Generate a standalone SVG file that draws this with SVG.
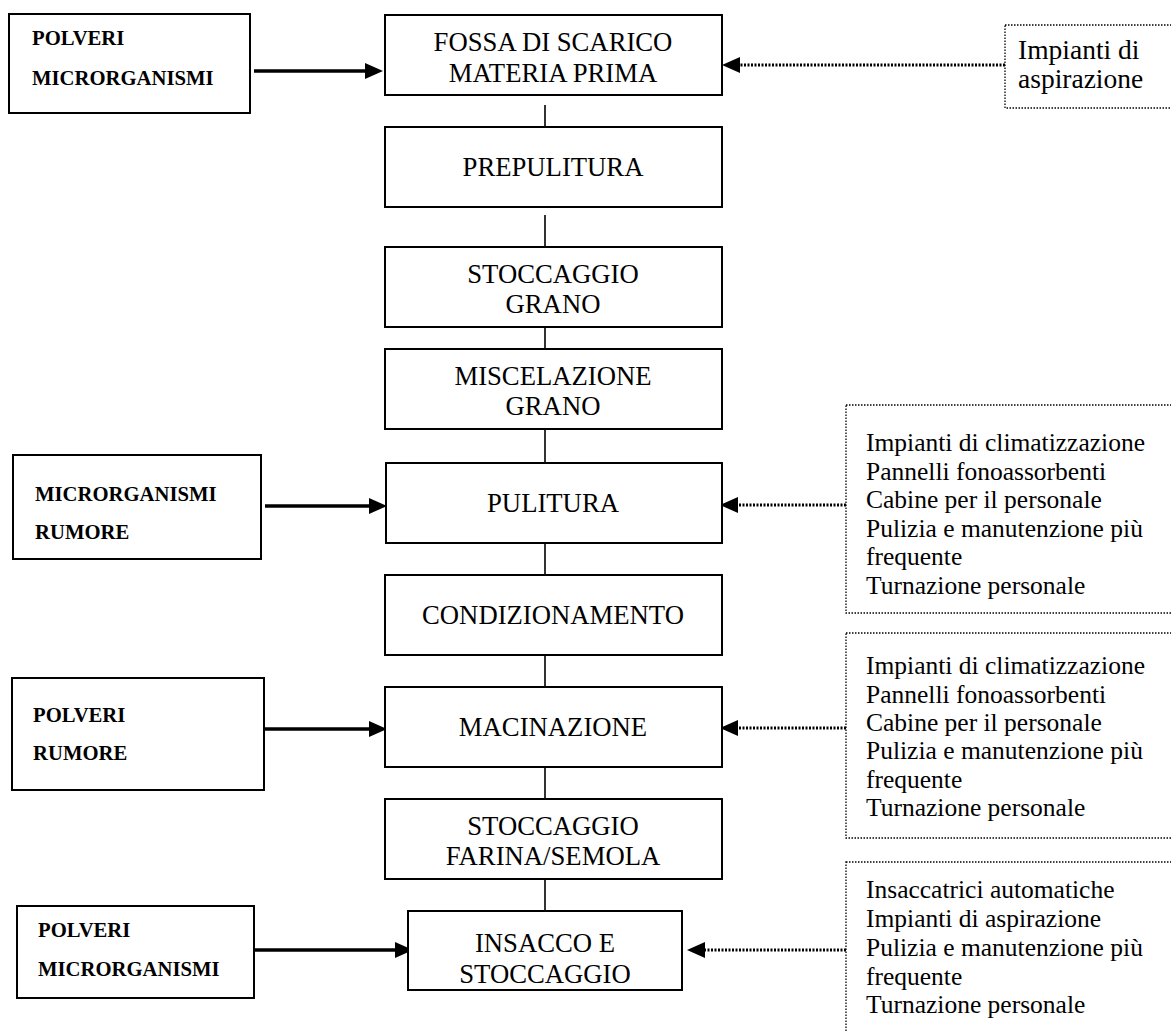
<svg xmlns="http://www.w3.org/2000/svg" width="1171" height="1032" viewBox="0 0 1171 1032">
<style>
  .box { fill: #fff; stroke: #000; stroke-width: 2; }
  .risk { fill: #fff; stroke: #000; stroke-width: 2; }
  .meas { fill: #fff; stroke: #000; stroke-width: 1.3; stroke-dasharray: 1.5 1.5; }
  .main { font-family: "Liberation Serif", "Times New Roman", serif; font-size: 26.7px; fill: #000; text-anchor: middle; }
  .bold { font-family: "Liberation Serif", "Times New Roman", serif; font-size: 20.7px; font-weight: bold; fill: #000; }
  .note { font-family: "Liberation Serif", "Times New Roman", serif; font-size: 25.5px; fill: #000; }
  .link { stroke: #000; stroke-width: 1.6; fill: none; }
  .solid { stroke: #000; stroke-width: 3.5; fill: none; marker-end: url(#head); }
  .dot { stroke: #000; stroke-width: 3; stroke-dasharray: 2 1.5; fill: none; marker-end: url(#head); }
</style>
<defs>
  <marker id="head" markerUnits="userSpaceOnUse" markerWidth="18" markerHeight="16" refX="2" refY="8" orient="auto">
    <path d="M0,0 L18,8 L0,16 z" fill="#000"/>
  </marker>
</defs>
<rect width="1171" height="1032" fill="#fff"/>

<g id="connectors">
  <line class="link" x1="545" y1="105" x2="545" y2="137"/>
  <line class="link" x1="545" y1="215" x2="545" y2="248"/>
  <line class="link" x1="545" y1="319" x2="545" y2="352"/>
  <line class="link" x1="545" y1="429" x2="545" y2="463"/>
  <line class="link" x1="545" y1="543" x2="545" y2="575"/>
  <line class="link" x1="545" y1="655" x2="545" y2="687"/>
  <line class="link" x1="545" y1="767" x2="545" y2="799"/>
  <line class="link" x1="545" y1="879" x2="545" y2="911"/>
  <line class="solid" x1="254" y1="71" x2="367" y2="71"/>
  <line class="solid" x1="265" y1="506" x2="371" y2="506"/>
  <line class="solid" x1="264" y1="729" x2="371" y2="729"/>
  <line class="solid" x1="254" y1="950" x2="397" y2="950"/>
  <line class="dot" x1="1005" y1="65" x2="738" y2="65"/>
  <line class="dot" x1="846" y1="505" x2="736" y2="505"/>
  <line class="dot" x1="846" y1="728" x2="736" y2="728"/>
  <line class="dot" x1="846" y1="950" x2="703" y2="950"/>
</g>

<g id="fossa">
  <rect class="box" x="385" y="15" width="337" height="80"/>
  <text class="main" x="553" y="51">FOSSA DI SCARICO</text>
  <text class="main" x="553" y="82">MATERIA PRIMA</text>
</g>
<g id="prepulitura">
  <rect class="box" x="385" y="127" width="337" height="80"/>
  <text class="main" x="553" y="176">PREPULITURA</text>
</g>
<g id="stoccaggio-grano">
  <rect class="box" x="385" y="247" width="337" height="80"/>
  <text class="main" x="553" y="283">STOCCAGGIO</text>
  <text class="main" x="553" y="313">GRANO</text>
</g>
<g id="miscelazione">
  <rect class="box" x="385" y="349" width="337" height="80"/>
  <text class="main" x="553" y="385">MISCELAZIONE</text>
  <text class="main" x="553" y="415">GRANO</text>
</g>
<g id="pulitura">
  <rect class="box" x="386" y="463" width="336" height="80"/>
  <text class="main" x="553" y="512">PULITURA</text>
</g>
<g id="condizionamento">
  <rect class="box" x="385" y="575" width="337" height="80"/>
  <text class="main" x="553" y="624">CONDIZIONAMENTO</text>
</g>
<g id="macinazione">
  <rect class="box" x="385" y="687" width="337" height="80"/>
  <text class="main" x="553" y="736">MACINAZIONE</text>
</g>
<g id="stoccaggio-farina">
  <rect class="box" x="385" y="799" width="337" height="80"/>
  <text class="main" x="553" y="835">STOCCAGGIO</text>
  <text class="main" x="553" y="865">FARINA/SEMOLA</text>
</g>
<g id="insacco">
  <rect class="box" x="408" y="911" width="274" height="79"/>
  <text class="main" x="545" y="952">INSACCO E</text>
  <text class="main" x="545" y="983">STOCCAGGIO</text>
</g>

<g id="rischi-1">
  <rect class="risk" x="9" y="14" width="241" height="99"/>
  <text class="bold" x="32" y="45">POLVERI</text>
  <text class="bold" x="32" y="85">MICRORGANISMI</text>
</g>
<g id="rischi-2">
  <rect class="risk" x="13" y="455" width="248" height="104"/>
  <text class="bold" x="35" y="501">MICRORGANISMI</text>
  <text class="bold" x="35" y="539">RUMORE</text>
</g>
<g id="rischi-3">
  <rect class="risk" x="12" y="678" width="252" height="112"/>
  <text class="bold" x="33" y="722">POLVERI</text>
  <text class="bold" x="33" y="760">RUMORE</text>
</g>
<g id="rischi-4">
  <rect class="risk" x="17" y="906" width="237" height="92"/>
  <text class="bold" x="38" y="937">POLVERI</text>
  <text class="bold" x="38" y="976">MICRORGANISMI</text>
</g>

<g id="misure-1">
  <rect class="meas" x="1005" y="25" width="200" height="83"/>
  <text class="note" x="1018" y="59" style="font-size:27.5px">Impianti di</text>
  <text class="note" x="1018" y="88" style="font-size:27.5px">aspirazione</text>
</g>
<g id="misure-2">
  <rect class="meas" x="846" y="405" width="360" height="208"/>
  <text class="note" x="866" y="451">Impianti di climatizzazione</text>
  <text class="note" x="866" y="480">Pannelli fonoassorbenti</text>
  <text class="note" x="866" y="508">Cabine per il personale</text>
  <text class="note" x="866" y="537">Pulizia e manutenzione più</text>
  <text class="note" x="866" y="565">frequente</text>
  <text class="note" x="866" y="594">Turnazione personale</text>
</g>
<g id="misure-3">
  <rect class="meas" x="846" y="633" width="360" height="205"/>
  <text class="note" x="866" y="674">Impianti di climatizzazione</text>
  <text class="note" x="866" y="703">Pannelli fonoassorbenti</text>
  <text class="note" x="866" y="731">Cabine per il personale</text>
  <text class="note" x="866" y="759">Pulizia e manutenzione più</text>
  <text class="note" x="866" y="788">frequente</text>
  <text class="note" x="866" y="816">Turnazione personale</text>
</g>
<g id="misure-4">
  <rect class="meas" x="846" y="862" width="360" height="200"/>
  <text class="note" x="866" y="898">Insaccatrici automatiche</text>
  <text class="note" x="866" y="927">Impianti di aspirazione</text>
  <text class="note" x="866" y="956">Pulizia e manutenzione più</text>
  <text class="note" x="866" y="985">frequente</text>
  <text class="note" x="866" y="1013">Turnazione personale</text>
</g>
</svg>
